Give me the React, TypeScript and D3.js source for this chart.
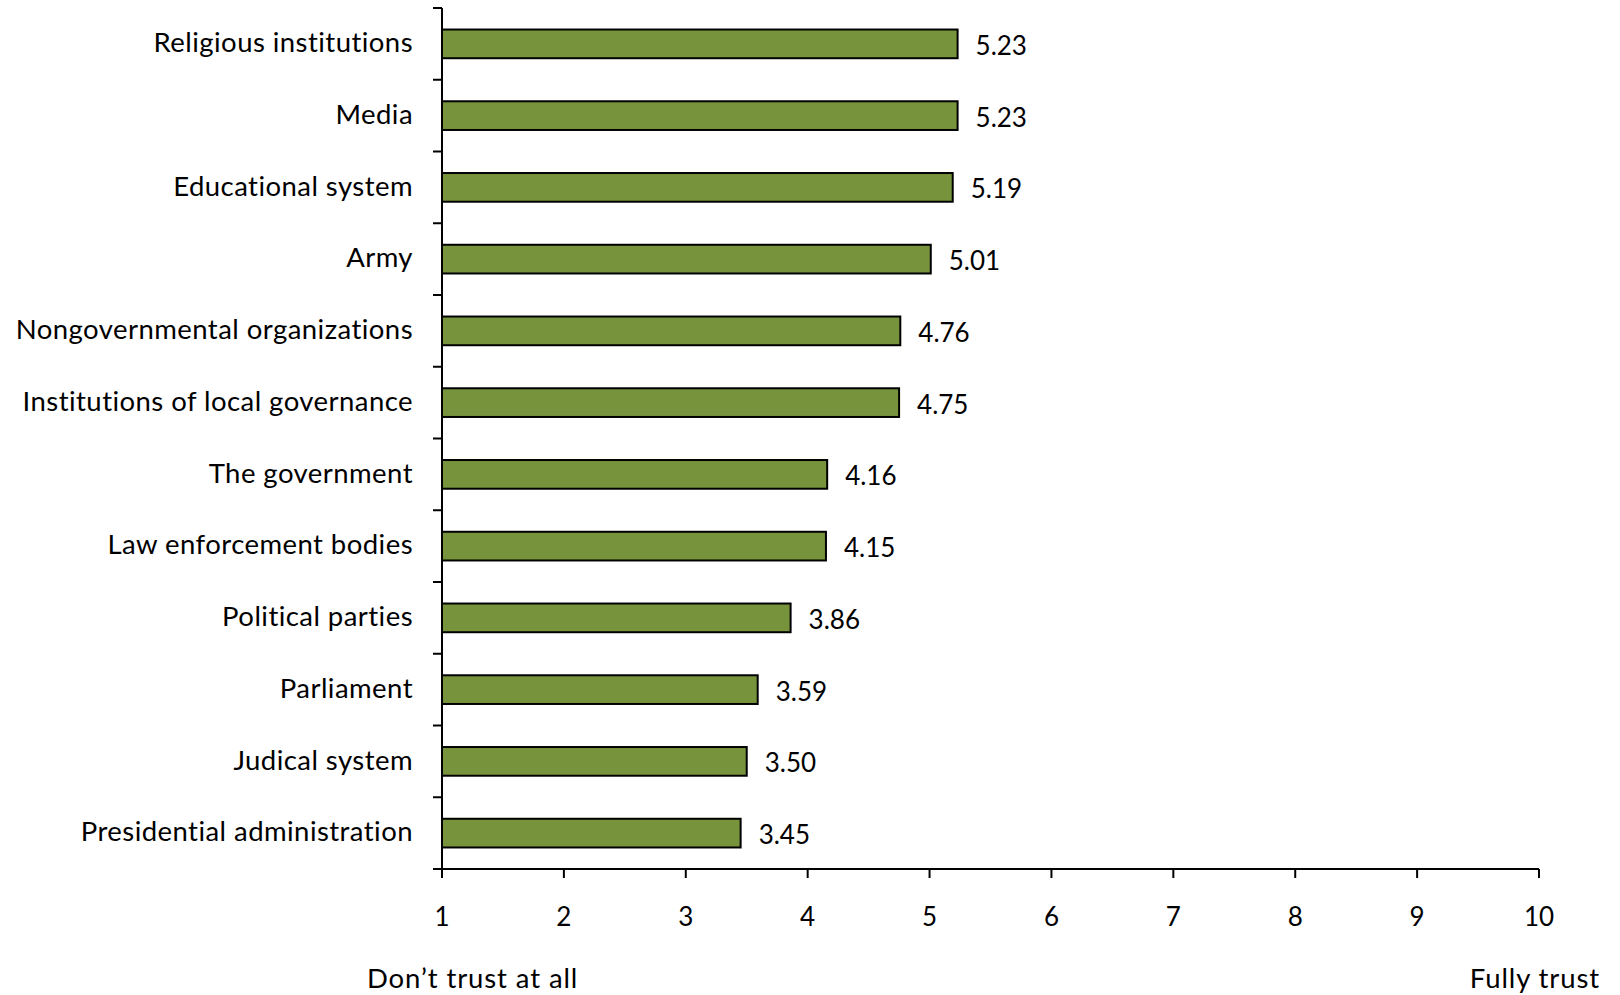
import React from "react";
import * as d3 from "d3";

const categories = [
  "Religious institutions",
  "Media",
  "Educational system",
  "Army",
  "Nongovernmental organizations",
  "Institutions of local governance",
  "The government",
  "Law enforcement bodies",
  "Political parties",
  "Parliament",
  "Judical system",
  "Presidential administration",
];
const values = [5.23, 5.23, 5.19, 5.01, 4.76, 4.75, 4.16, 4.15, 3.86, 3.59, 3.5, 3.45];
const xTicks = [1, 2, 3, 4, 5, 6, 7, 8, 9, 10];
const leftNote = "Don\u2019t trust at all";
const rightNote = "Fully trust";

const W = 1620;
const H = 995;
const FONT = "Lato, 'Open Sans', sans-serif";
const FS = 26;
const FS_LABEL = 27.5;
const LS = 0.45;

export default function App() {
  const x = d3.scaleLinear().domain([1, 10]).range([442, 1539]);
  const y = d3
    .scaleBand<string>()
    .domain(categories)
    .range([8, 869])
    .paddingInner(0.6)
    .paddingOuter(0.3);
  const step = y.step();
  const bw = y.bandwidth();
  const x0 = x(1);
  const yBottom = 869;
  const boundaries = d3.range(categories.length + 1).map((i) => 8 + i * step);

  return (
    <svg
      width={W}
      height={H}
      style={{ position: "absolute", left: 0, top: 0, background: "#fff" }}
      fontFamily={FONT}
    >
      <rect x={0} y={0} width={W} height={H} fill="#fff" />
      {/* bars */}
      {categories.map((c, i) => (
        <g key={c}>
          <rect
            x={x0}
            y={y(c)!}
            width={x(values[i]) - x0}
            height={bw}
            fill="#77933C"
            stroke="#000"
            strokeWidth={2}
          />
          <text
            x={x(values[i]) + 18}
            y={y(c)! + bw / 2}
            dy="0.42em"
            fontSize={FS}
            fill="#000"
          >
            {values[i].toFixed(2)}
          </text>
          <text
            x={413}
            y={y(c)! + bw / 2}
            dy="0.3em"
            fontSize={FS_LABEL}
            letterSpacing={LS}
            textAnchor="end"
            fill="#000"
          >
            {c}
          </text>
        </g>
      ))}
      {/* y axis */}
      <line x1={x0} x2={x0} y1={8} y2={yBottom} stroke="#000" strokeWidth={2} />
      {boundaries.map((b, i) => (
        <line key={i} x1={x0 - 9} x2={x0} y1={b} y2={b} stroke="#000" strokeWidth={2} />
      ))}
      {/* x axis */}
      <line x1={x0} x2={x(10)} y1={yBottom} y2={yBottom} stroke="#000" strokeWidth={2} />
      {xTicks.map((t) => (
        <g key={t}>
          <line x1={x(t)} x2={x(t)} y1={yBottom} y2={yBottom + 9} stroke="#000" strokeWidth={2} />
          <text
            x={x(t)}
            y={916}
            dy="0.38em"
            fontSize={FS}
            textAnchor="middle"
            fill="#000"
          >
            {t}
          </text>
        </g>
      ))}
      <text x={367} y={988} fontSize={FS_LABEL} letterSpacing={0.9} fill="#000">
        {leftNote}
      </text>
      <text x={1600} y={988} fontSize={FS_LABEL} letterSpacing={0.9} textAnchor="end" fill="#000">
        {rightNote}
      </text>
    </svg>
  );
}
